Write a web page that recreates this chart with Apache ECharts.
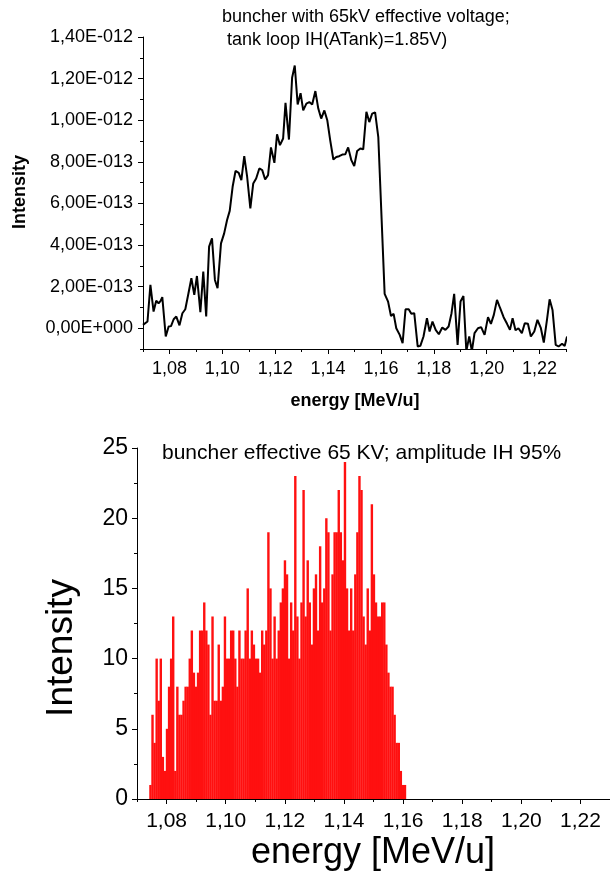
<!DOCTYPE html>
<html><head><meta charset="utf-8">
<script src="https://cdn.jsdelivr.net/npm/echarts@6/dist/echarts.min.js"></script>
<style>html,body{margin:0;padding:0;background:#fff}#c{width:610px;height:877px}</style>
</head><body><div id="c"></div>
<script>
// ---------- top chart: measured spectrum ----------
const lineEnergy = [
 1.0700,1.0717,1.0728,1.0740,1.0750,1.0759,1.0766,1.0773,1.0786,1.0797,
 1.0806,1.0816,1.0826,1.0838,1.0849,1.0860,1.0872,1.0883,1.0894,1.0904,
 1.0917,1.0928,1.0939,1.0950,1.0961,1.0972,1.0982,1.0995,1.1007,1.1018,
 1.1028,1.1039,1.1050,1.1062,1.1072,1.1083,1.1094,1.1106,1.1117,1.1128,
 1.1140,1.1151,1.1162,1.1173,1.1184,1.1197,1.1207,1.1218,1.1230,1.1239,
 1.1252,1.1264,1.1274,1.1285,1.1296,1.1306,1.1318,1.1329,1.1340,1.1352,
 1.1363,1.1374,1.1386,1.1397,1.1408,1.1420,1.1431,1.1442,1.1454,1.1465,
 1.1476,1.1488,1.1499,1.1510,1.1522,1.1533,1.1545,1.1556,1.1567,1.1578,
 1.1590,1.1614,1.1627,1.1638,1.1648,1.1658,1.1671,1.1682,1.1693,1.1705,
 1.1715,1.1726,1.1739,1.1749,1.1761,1.1774,1.1784,1.1795,1.1807,1.1819,
 1.1832,1.1844,1.1856,1.1867,1.1877,1.1890,1.1901,1.1912,1.1923,1.1934,
 1.1944,1.1954,1.1967,1.1979,1.1992,1.2005,1.2016,1.2027,1.2039,1.2051,
 1.2064,1.2077,1.2088,1.2098,1.2109,1.2120,1.2133,1.2144,1.2156,1.2167,
 1.2180,1.2192,1.2205,1.2216,1.2228,1.2238,1.2249,1.2261,1.2272,1.2285,
 1.2295,1.2304
];
const lineIntensity = [
 0.16e-13,0.32e-13,2.08e-13,0.80e-13,1.32e-13,1.20e-13,1.30e-13,1.49e-13,-0.40e-13,0.08e-13,
 0.10e-13,0.43e-13,0.56e-13,0.14e-13,0.72e-13,0.91e-13,1.68e-13,2.40e-13,1.60e-13,2.51e-13,
 0.77e-13,2.72e-13,0.56e-13,3.92e-13,4.32e-13,2.32e-13,1.92e-13,4.08e-13,4.56e-13,5.20e-13,
 5.64e-13,6.80e-13,7.56e-13,7.47e-13,7.12e-13,8.27e-13,7.27e-13,5.76e-13,6.96e-13,7.20e-13,
 7.68e-13,7.60e-13,7.15e-13,7.36e-13,8.69e-13,7.95e-13,9.32e-13,8.80e-13,9.12e-13,10.83e-13,
 9.07e-13,12.04e-13,12.63e-13,10.76e-13,11.30e-13,10.47e-13,10.80e-13,10.87e-13,10.75e-13,11.40e-13,
 10.56e-13,10.08e-13,10.47e-13,10.00e-13,9.04e-13,8.11e-13,8.23e-13,8.27e-13,8.35e-13,8.36e-13,
 8.69e-13,8.08e-13,7.80e-13,8.52e-13,8.64e-13,8.60e-13,10.40e-13,9.91e-13,10.32e-13,10.38e-13,
 9.19e-13,1.65e-13,1.28e-13,0.59e-13,0.69e-13,0.00e-13,-0.32e-13,-0.72e-13,0.91e-13,0.91e-13,
 0.69e-13,0.72e-13,-0.88e-13,-0.85e-13,-0.40e-13,0.48e-13,-0.16e-13,0.32e-13,-0.08e-13,-0.29e-13,
 0.03e-13,-0.08e-13,0.08e-13,0.72e-13,1.65e-13,-0.80e-13,1.28e-13,1.55e-13,-1.10e-13,-0.40e-13,
 -1.10e-13,-0.24e-13,0.00e-13,0.05e-13,-0.32e-13,0.53e-13,0.21e-13,0.64e-13,1.36e-13,0.96e-13,
 0.53e-13,0.21e-13,-0.08e-13,0.48e-13,-0.10e-13,0.00e-13,-0.24e-13,0.24e-13,0.21e-13,-0.40e-13,
 -0.16e-13,0.40e-13,0.00e-13,-0.69e-13,0.40e-13,1.39e-13,0.88e-13,-0.80e-13,-0.88e-13,-0.75e-13,
 -0.85e-13,-0.40e-13
];
const topYTickValues = [0, 2e-13, 4e-13, 6e-13, 8e-13, 1e-12, 1.2e-12, 1.4e-12];

// ---------- bottom chart: simulated histogram ----------
const histBinStart = 1.0742;   // left edge of first bin [MeV/u]
const histBinWidth = 0.0007;   // bin width [MeV/u]
const histCounts = [
 1,6,4,10,7,10,3,2,5,8,
 10,13,2,8,6,6,7,8,8,10,
 12,9,8,9,12,12,14,12,11,6,
 13,7,7,11,7,8,13,10,10,12,
 12,10,8,12,10,10,12,15,10,12,
 11,10,10,9,12,11,12,19,15,10,
 13,10,12,14,15,17,16,10,14,12,
 23,13,10,14,22,13,17,14,11,15,
 16,12,18,14,15,20,19,12,16,19,
 19,22,19,17,24,15,12,15,12,16,
 19,23,22,13,11,15,12,21,16,14,
 13,13,14,14,11,9,8,8,6,4,
 4,2,1,1
];
const xTickValues = [1.08, 1.10, 1.12, 1.14, 1.16, 1.18, 1.20, 1.22];

const FONT = '"Liberation Sans", Arial, sans-serif';
const fmtX = v => v.toFixed(2).replace('.', ',');
const fmtSci = v => {
  const s = Number(v).toExponential(2).split('e');
  const n = parseInt(s[1], 10);
  return s[0].replace('.', ',') + 'E' + (n < 0 ? '-' : '+') + String(Math.abs(n)).padStart(3, '0');
};

const axisLine = {show: true, onZero: false, lineStyle: {color: '#000', width: 1}};

function mainX(grid, fontSize, margin) {
  return {
    type: 'value', gridIndex: grid, position: 'bottom', min: 1.07, max: 1.23,
    axisLine: axisLine, splitLine: {show: false},
    axisTick: {show: true, inside: false, length: 5, customValues: xTickValues, lineStyle: {color: '#000'}},
    axisLabel: {show: true, customValues: xTickValues, formatter: fmtX, color: '#000',
      fontFamily: FONT, fontSize: fontSize, margin: margin}
  };
}
function minorX(grid) {
  return {
    type: 'value', gridIndex: grid, position: 'bottom', min: 1.07, max: 1.23, interval: 0.01,
    axisLine: {show: false, onZero: false}, splitLine: {show: false}, axisLabel: {show: false},
    axisTick: {show: true, length: 3, lineStyle: {color: '#000'}}
  };
}

const chart = echarts.init(document.getElementById('c'), null, {renderer: 'canvas'});
chart.setOption({
  animation: false,
  backgroundColor: '#fff',
  grid: [
    {left: 143, top: 37, width: 423, height: 312, containLabel: false, outerBoundsMode: 'none'},
    {left: 137, top: 448, width: 473, height: 351, containLabel: false, outerBoundsMode: 'none'}
  ],
  xAxis: [
    mainX(0, 18, 11),
    minorX(0),
    mainX(1, 21, 12),
    minorX(1)
  ],
  yAxis: [
    {
      type: 'value', gridIndex: 0, position: 'left', min: -1e-13, max: 1.4e-12,
      axisLine: axisLine, splitLine: {show: false},
      axisTick: {show: true, length: 5, customValues: topYTickValues, lineStyle: {color: '#000'}},
      axisLabel: {show: true, customValues: topYTickValues, formatter: fmtSci, color: '#000',
        fontFamily: FONT, fontSize: 18, margin: 10}
    },
    {
      type: 'value', gridIndex: 0, position: 'left', min: -1e-13, max: 1.4e-12, interval: 1e-13,
      axisLine: {show: false}, splitLine: {show: false}, axisLabel: {show: false},
      axisTick: {show: true, length: 3, lineStyle: {color: '#000'}}
    },
    {
      type: 'value', gridIndex: 1, position: 'left', min: 0, max: 25, interval: 5,
      axisLine: axisLine, splitLine: {show: false},
      axisTick: {show: true, length: 5, lineStyle: {color: '#000'}},
      minorTick: {show: true, splitNumber: 2, length: 3, lineStyle: {color: '#000'}},
      axisLabel: {show: true, color: '#000', fontFamily: FONT, fontSize: 23, margin: 9}
    }
  ],
  series: [
    {
      type: 'line', xAxisIndex: 0, yAxisIndex: 0, symbol: 'none', clip: true,
      lineStyle: {color: '#000', width: 2},
      data: lineEnergy.map((e, i) => [e, lineIntensity[i]])
    },
    {
      type: 'bar', xAxisIndex: 2, yAxisIndex: 2, barWidth: 2.4,
      itemStyle: {color: '#ff1010', borderWidth: 0},
      data: histCounts.map((c, i) => [histBinStart + histBinWidth * (i + 0.5), c])
    }
  ],
  graphic: [
    {type: 'text', left: 222, top: 8, style: {text: 'buncher with 65kV effective voltage;', font: '18px ' + FONT, fill: '#000'}},
    {type: 'text', left: 222, top: 31, style: {text: ' tank loop IH(ATank)=1.85V)', font: '18px ' + FONT, fill: '#000'}},
    {type: 'text', x: 20, y: 192, rotation: Math.PI / 2,
      style: {text: 'Intensity', font: 'bold 18px ' + FONT, fill: '#000', align: 'center', verticalAlign: 'middle'}},
    {type: 'text', x: 355, y: 401,
      style: {text: 'energy [MeV/u]', font: 'bold 18px ' + FONT, fill: '#000', align: 'center', verticalAlign: 'middle'}},
    {type: 'text', left: 162, top: 443, style: {text: 'buncher effective 65 KV; amplitude IH 95%', font: '21px ' + FONT, fill: '#000'}},
    {type: 'text', x: 62, y: 648, rotation: Math.PI / 2,
      style: {text: 'Intensity', font: '37px ' + FONT, fill: '#000', align: 'center', verticalAlign: 'middle'}},
    {type: 'text', x: 373, y: 853,
      style: {text: 'energy [MeV/u]', font: '36px ' + FONT, fill: '#000', align: 'center', verticalAlign: 'middle'}}
  ]
});
</script>
</body></html>
